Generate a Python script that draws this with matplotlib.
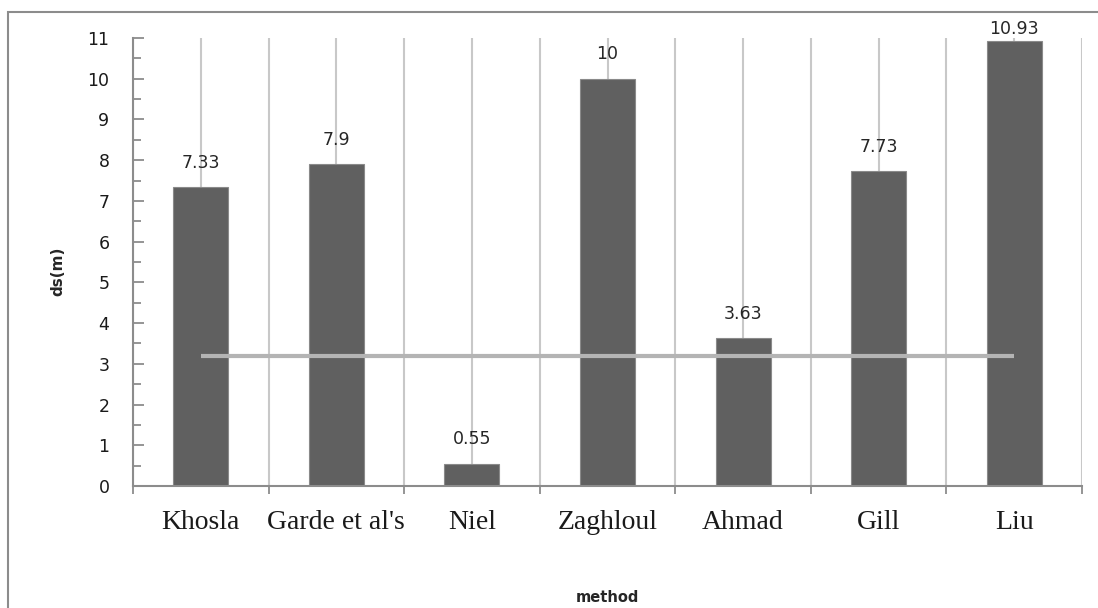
import numpy as np
from matplotlib import pyplot as plt
from matplotlib.patches import Rectangle
from matplotlib.ticker import FixedLocator, NullFormatter

# data
methods = ['Khosla', "Garde et al's", 'Niel', 'Zaghloul', 'Ahmad', 'Gill', 'Liu']
ds = [7.33, 7.9, 0.55, 10, 3.63, 7.73, 10.93]
ref_level = [3.19, 3.19, 3.19, 3.19, 3.19, 3.19, 3.19]

bar_color = '#606060'
grid_color = '#c8c8c8'
axis_color = '#8c8c8c'

fig = plt.figure(figsize=(10.98, 6.08), dpi=100)
ax = fig.add_axes([133/1098, 1 - 486/608, 949/1098, 448/608])

x = np.arange(len(methods))
ax.bar(x, ds, width=0.405, color=bar_color, edgecolor='#8a8a8a', linewidth=0.8, zorder=2)
ax.plot(x, ref_level, color='#b4b4b4', linewidth=3, solid_capstyle='butt', zorder=3)

# value labels above the bars, kept inside the top of the plot
for xi, v in zip(x, ds):
    ax.text(xi, min(v + 0.38, 11.0), '{:g}'.format(v), ha='center', va='bottom',
            fontsize=12.5, color='#262626', zorder=4)

ax.set_xlim(-0.5, len(methods) - 0.5)
ax.set_ylim(0, 11)

# x axis: ticks on category borders, labels on category centres
ax.xaxis.set_major_locator(FixedLocator(np.arange(len(methods) + 1) - 0.5))
ax.xaxis.set_major_formatter(NullFormatter())
ax.xaxis.set_minor_locator(FixedLocator(x))
ax.set_xticks(x, methods, minor=True)
ax.tick_params(axis='x', which='major', direction='out', length=6, width=1.3, color=axis_color)
ax.tick_params(axis='x', which='minor', length=0, pad=17)
for lbl in ax.get_xticklabels(minor=True):
    lbl.set_family('Liberation Serif')
    lbl.set_fontsize(20)
    lbl.set_color('#1a1a1a')
ax.grid(True, axis='x', which='both', color=grid_color, linewidth=1.5)
ax.set_axisbelow(True)

# y axis
ax.set_yticks(np.arange(0, 12))
ax.set_yticks(np.arange(0.5, 11, 1), minor=True)
ax.tick_params(axis='y', which='major', direction='in', length=8, width=1.3,
               color=axis_color, labelsize=12.5, pad=17)
ax.tick_params(axis='y', which='minor', direction='in', length=6, width=1.3, color=axis_color)
for lbl in ax.get_yticklabels():
    lbl.set_color('#1a1a1a')

for side in ['top', 'right']:
    ax.spines[side].set_visible(False)
for side in ['left', 'bottom']:
    ax.spines[side].set_color(axis_color)
    ax.spines[side].set_linewidth(1.5)

ax.set_xlabel('method', fontsize=10.5, fontweight='bold', color='#262626')
ax.xaxis.set_label_coords(0.5, -0.232)
ax.set_ylabel('ds(m)', fontsize=11, fontweight='bold', color='#262626')
ax.yaxis.set_label_coords(-0.071, 0.48)

# frame round the whole chart
fig.patches.append(Rectangle((8/1098, -0.1), 1.2, 1.1 - 12/608, transform=fig.transFigure,
                             fill=False, edgecolor=axis_color, linewidth=1.5))

fig.savefig('out.png', dpi=100)
